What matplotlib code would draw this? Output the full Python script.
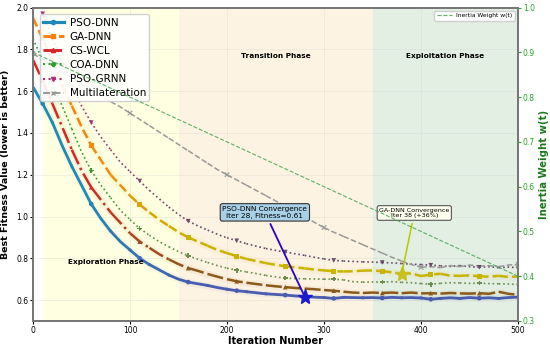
import numpy as np
import matplotlib
matplotlib.use("Agg")
import matplotlib.pyplot as plt
from matplotlib.colors import to_rgb
from matplotlib.lines import Line2D

# Iterations (sampled every 10)
iters = np.arange(0, 510, 10)

pso_dnn = [1.62, 1.54, 1.45, 1.34, 1.24, 1.15, 1.06, 0.99, 0.93, 0.88, 0.84,
           0.80, 0.77, 0.745, 0.72, 0.70, 0.686, 0.678, 0.67, 0.66, 0.652,
           0.645, 0.64, 0.635, 0.63, 0.627, 0.624, 0.62, 0.617, 0.614, 0.612,
           0.608, 0.613, 0.612, 0.611, 0.612, 0.61, 0.613, 0.611, 0.612, 0.61,
           0.604, 0.608, 0.611, 0.608, 0.612, 0.609, 0.611, 0.608, 0.612, 0.614]
ga_dnn = [1.95, 1.85, 1.75, 1.63, 1.53, 1.43, 1.34, 1.27, 1.20, 1.15, 1.10,
          1.057, 1.02, 0.985, 0.955, 0.925, 0.90, 0.88, 0.86, 0.84, 0.825,
          0.81, 0.797, 0.787, 0.777, 0.769, 0.762, 0.757, 0.752, 0.746, 0.742,
          0.738, 0.737, 0.738, 0.741, 0.742, 0.738, 0.733, 0.724, 0.728, 0.715,
          0.722, 0.726, 0.717, 0.716, 0.718, 0.714, 0.712, 0.716, 0.711, 0.713]
cs_wcl = [1.75, 1.65, 1.54, 1.43, 1.32, 1.22, 1.14, 1.08, 1.02, 0.97, 0.92,
          0.88, 0.85, 0.82, 0.795, 0.772, 0.753, 0.74, 0.725, 0.712, 0.70,
          0.69, 0.683, 0.677, 0.671, 0.666, 0.662, 0.658, 0.655, 0.652, 0.648,
          0.645, 0.64, 0.636, 0.634, 0.636, 0.634, 0.636, 0.633, 0.636, 0.632,
          0.633, 0.631, 0.634, 0.632, 0.631, 0.633, 0.63, 0.64, 0.63, 0.625]
coa_dnn = [1.85, 1.75, 1.64, 1.53, 1.42, 1.31, 1.22, 1.15, 1.09, 1.03, 0.985,
           0.943, 0.91, 0.88, 0.855, 0.832, 0.812, 0.795, 0.78, 0.765, 0.753,
           0.743, 0.735, 0.727, 0.718, 0.711, 0.705, 0.703, 0.702, 0.701, 0.70,
           0.70, 0.697, 0.688, 0.686, 0.687, 0.686, 0.688, 0.685, 0.683, 0.679,
           0.676, 0.68, 0.683, 0.682, 0.68, 0.681, 0.679, 0.678, 0.677, 0.675]
pso_grnn = [2.1, 1.97, 1.85, 1.75, 1.63, 1.53, 1.45, 1.38, 1.32, 1.26, 1.215,
            1.17, 1.125, 1.085, 1.045, 1.01, 0.978, 0.955, 0.935, 0.915, 0.898,
            0.884, 0.87, 0.858, 0.847, 0.838, 0.83, 0.822, 0.814, 0.805, 0.797,
            0.79, 0.787, 0.785, 0.783, 0.782, 0.78, 0.778, 0.775, 0.772, 0.77,
            0.767, 0.764, 0.761, 0.765, 0.76, 0.757, 0.76, 0.755, 0.758, 0.755]
multilat = [1.78, 1.75, 1.72, 1.69, 1.665, 1.635, 1.61, 1.58, 1.55, 1.525, 1.495,
            1.465, 1.435, 1.405, 1.375, 1.345, 1.315, 1.285, 1.255, 1.225, 1.20,
            1.175, 1.15, 1.125, 1.10, 1.075, 1.05, 1.025, 1.0, 0.972, 0.947,
            0.925, 0.905, 0.885, 0.865, 0.845, 0.825, 0.805, 0.787, 0.77, 0.757,
            0.76, 0.755, 0.765, 0.76, 0.768, 0.762, 0.765, 0.76, 0.768, 0.77]

# Inertia weight (linear schedule endpoints)
w_iters = [0, 500]
w_vals = [0.9, 0.4]

# name, data, start colour, end colour, linestyle, marker, linewidth, marker step, band
series = [
    ("PSO-DNN", pso_dnn, "#1f8ab5", "#4a5cb0", "-", "o", 2.0, 5, True),
    ("GA-DNN", ga_dnn, "#ff7f0e", "#c8b400", "--", "s", 1.8, 5, True),
    ("CS-WCL", cs_wcl, "#d62728", "#8b5a1a", "-.", "^", 1.8, 5, True),
    ("COA-DNN", coa_dnn, "#2ca02c", "#6b8e4e", ":", "P", 1.2, 5, False),
    ("PSO-GRNN", pso_grnn, "#b03080", "#6b4a6b", ":", "v", 1.2, 5, False),
    ("Multilateration", multilat, "#999999", "#999999", "--", "x", 1.1, 10, False),
]


def blend(c0, c1, t):
    a, b = np.array(to_rgb(c0)), np.array(to_rgb(c1))
    return tuple(a + (b - a) * t)


def fade(xv):
    return float(np.clip((xv - 40) / 110.0, 0, 1))


fig, ax = plt.subplots(figsize=(5.5, 3.47), dpi=100)
fig.subplots_adjust(left=0.06, right=0.942, top=0.978, bottom=0.075)

# phase backgrounds
ax.axvspan(10, 150, color="#ffffd0", alpha=0.6, lw=0, zorder=0)
ax.axvspan(150, 350, color="#fdebd0", alpha=0.6, lw=0, zorder=0)
ax.axvspan(350, 500, color="#c8e0c8", alpha=0.5, lw=0, zorder=0)
ax.grid(True, color="#cccccc", alpha=0.3, lw=0.6)

handles = []
for name, vals, c0, c1, ls, mk, lw, step, band in series:
    y = np.array(vals)
    if band:
        ax.fill_between(iters, y * 0.975, y * 1.025, color=c1, alpha=0.05, lw=0, zorder=1)
    # draw in chunks so the colour drifts along the curve
    for i in range(0, len(iters) - 1, 2):
        j = min(i + 2, len(iters) - 1)
        col = blend(c0, c1, fade(iters[i]))
        ax.plot(iters[i:j + 1], y[i:j + 1], ls=ls, color=col, lw=lw, zorder=3)
    idx = np.arange(1 if step == 5 else 0, len(iters), step)
    cols = [blend(c0, c1, fade(iters[k])) for k in idx]
    ax.scatter(iters[idx], y[idx], marker=mk, c=cols, s=11, zorder=4,
               linewidths=0.8 if mk == "x" else 0)
    handles.append(Line2D([0], [0], color=c0, ls=ls, lw=lw + 0.3, marker=mk, ms=3))

# convergence stars
ax.plot(280, pso_dnn[28], marker="*", color="#1a1acc", ms=11, zorder=6)
ax.plot(380, ga_dnn[38], marker="*", color="#c8c020", ms=11, zorder=6)

ax.annotate("PSO-DNN Convergence\nIter 28, Fitness=0.61", xy=(280, pso_dnn[28]),
            xytext=(239, 1.02), fontsize=5.3, ha="center", va="center",
            bbox=dict(boxstyle="round,pad=0.3", fc="#a8d0e6", ec="#333333", lw=0.8),
            arrowprops=dict(arrowstyle="-", color="#2a00cc", lw=1.3), zorder=7)
ax.annotate("GA-DNN Convergence\nIter 38 (+36%)", xy=(380, ga_dnn[38]),
            xytext=(393, 1.017), fontsize=4.6, ha="center", va="center",
            bbox=dict(boxstyle="round,pad=0.3", fc="#fffff0", ec="#555555", lw=0.8),
            arrowprops=dict(arrowstyle="-", color="#b8c800", lw=1.1), zorder=7)

ax.text(75, 0.775, "Exploration Phase", fontsize=5.3, fontweight="bold", ha="center")
ax.text(250, 1.76, "Transition Phase", fontsize=5.3, fontweight="bold", ha="center")
ax.text(425, 1.76, "Exploitation Phase", fontsize=5.3, fontweight="bold", ha="center")

ax.set_xlim(0, 500)
ax.set_ylim(0.5, 2.0)
ax.set_xlabel("Iteration Number", fontsize=7, fontweight="bold", labelpad=1)
ax.set_ylabel("Best Fitness Value (lower is better)", fontsize=6.8, fontweight="bold", labelpad=4)
ax.tick_params(labelsize=5.5, length=2, pad=1.5)
for s in ax.spines.values():
    s.set_color("#777777")
    s.set_linewidth(1.4)

ax.legend(handles, [s[0] for s in series], loc="upper left", fontsize=7.5,
          handlelength=2.0, borderpad=0.3, labelspacing=0.4, handletextpad=0.6,
          framealpha=0.9, bbox_to_anchor=(0.003, 0.995))

# inertia weight on the right axis
ax2 = ax.twinx()
ax2.plot(w_iters, w_vals, ls="--", color="#3aa04a", lw=0.8, alpha=0.8,
         label="Inertia Weight w(t)")
ax2.set_ylim(0.3, 1.0)
ax2.set_ylabel("Inertia Weight w(t)", fontsize=7.3, fontweight="bold", color="#1a7a1a", labelpad=3)
ax2.tick_params(labelsize=5.5, colors="#2ca02c", length=2, pad=1.5)
for s in ax2.spines.values():
    s.set_color("#777777")
    s.set_linewidth(1.4)
ax2.legend(loc="upper right", fontsize=4.3, handlelength=2.5, borderpad=0.4, framealpha=0.9)

plt.savefig("out.png", dpi=100)
